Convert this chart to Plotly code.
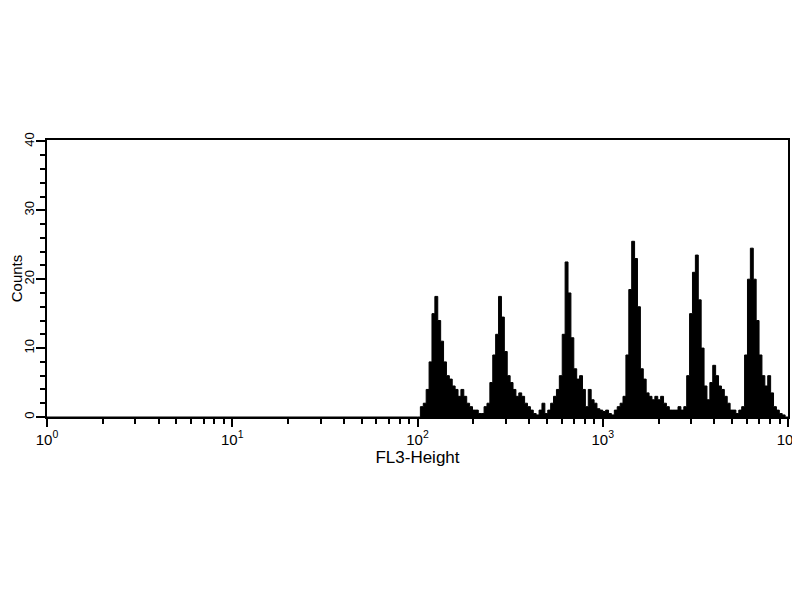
import numpy as np
import plotly.graph_objects as go

# Histogram: 256 channels over 4 log decades (64 channels per decade)
channels_per_decade = 64
first_channel = 128
counts = [
    0, 1.5, 2, 4, 8, 15, 17.5, 14, 11, 8, 6, 5.5, 4.5, 4, 3, 4, 3, 2, 1.5, 1, 1, 0.5,      # 128-149
    0.5, 1.5, 2, 5, 9, 12, 17.5, 14.5, 9.5, 6, 5, 4, 3, 3.5, 3, 2, 1.5, 1, 0.5, 0.3, 1, 2,  # 150-171
    0.5, 1, 2, 3, 4, 6, 12, 22.5, 18, 11.5, 7, 5.5, 6, 4, 1.5, 4, 2.5, 2, 1.2, 1, 0.8,     # 172-192
    1, 0.5, 0.3, 1, 1.5, 2, 3, 9, 18.5, 25.5, 23, 16, 7, 5.5, 3.5, 3, 2.5, 3, 2.5, 3, 2,    # 193-213
    1.5, 1, 1, 1, 1.5, 1, 1.5, 6, 15, 21, 23.5, 17, 10, 4.5, 2.5, 5, 7.5, 6, 4.5, 4, 3,     # 214-234
    2, 1, 1, 0.5, 1, 1.5, 9, 20, 24.5, 20, 14, 9, 6, 4.5, 6, 3.5, 1.5, 1, 0.5, 0.3, 0,     # 235-255
]
x_tick_vals = [1, 10, 100, 1000, 10000]
x_tick_text = ["10<sup>0</sup>", "10<sup>1</sup>", "10<sup>2</sup>", "10<sup>3</sup>", "10<sup>4</sup>"]
y_tick_vals = [0, 10, 20, 30, 40]

# build step outline from channel edges (lower edge of each channel)
ch = np.arange(first_channel, first_channel + len(counts) + 1)
edges = 10 ** (ch / channels_per_decade)
xs = [1.0] + list(edges)
ys = [0] + list(counts) + [counts[-1]]

fig = go.Figure()
fig.add_trace(go.Scatter(
    x=xs, y=ys, mode="lines", line=dict(shape="hv", color="black", width=1),
    fill="tozeroy", fillcolor="black", hoverinfo="skip", showlegend=False,
))

font = dict(family="Liberation Sans, Arial, sans-serif", color="black")
fig.update_layout(
    width=792, height=592,
    margin=dict(l=39, r=12, t=132, b=183, autoexpand=False),
    paper_bgcolor="white", plot_bgcolor="white",
    font=dict(size=14, **font),
    showlegend=False,
)
fig.update_xaxes(
    type="log", range=[0, 4], automargin=False,
    tickvals=x_tick_vals, ticktext=x_tick_text, ticklabeloverflow="allow",
    ticks="outside", ticklen=8, tickwidth=1.5, tickcolor="black",
    minor=dict(ticks="outside", ticklen=5, tickwidth=1.5, tickcolor="black", dtick="D1", showgrid=False),
    showline=True, linecolor="black", linewidth=1.5, mirror=True,
    showgrid=False, zeroline=False,
    tickfont=dict(size=15, **font),
    title=dict(text="FL3-Height", font=dict(size=17, **font), standoff=2),
)
fig.update_yaxes(
    range=[0, 40.2], automargin=False,
    tickvals=y_tick_vals, tickangle=-90, ticklabelstandoff=-3, ticklabeloverflow="allow",
    ticks="outside", ticklen=9, tickwidth=1.5, tickcolor="black",
    minor=dict(ticks="outside", ticklen=5, tickwidth=1.5, tickcolor="black", dtick=2, showgrid=False),
    showline=True, linecolor="black", linewidth=1.5, mirror=True,
    showgrid=False, zeroline=False,
    tickfont=dict(size=13, **font),
    title=dict(text="Counts", font=dict(size=15, **font), standoff=14),
)

fig.write_html("out.html")
